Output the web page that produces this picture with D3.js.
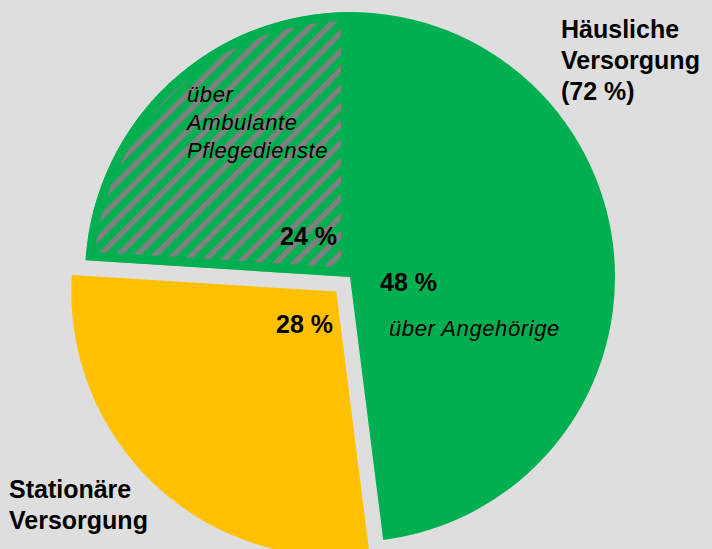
<!DOCTYPE html>
<html>
<head>
<meta charset="utf-8">
<script src="https://cdn.jsdelivr.net/npm/d3@7"></script>
<style>
  body { margin: 0; background: #dedede; }
  svg { display: block; font-family: "Liberation Sans", Arial, sans-serif; }
  .big { font-weight: bold; font-size: 25px; fill: #000; }
  .note { font-style: italic; font-size: 22px; letter-spacing: 0.6px; fill: #000; }
</style>
</head>
<body>
<div id="chart"></div>
<script>
// shares of care (percent)
const segments = ["Angehörige", "Stationär", "Ambulant"];
const shares = [48, 28, 24];
const colors = ["#00b050", "#ffc000", "#00b050"];
const pulled = [0, 20, 0];
const hatched = [false, false, true];

const width = 712, height = 549;
const cx = 350, cy = 277, radius = 265;

const svg = d3.select("#chart").append("svg")
    .attr("width", width)
    .attr("height", height);

svg.append("rect")
    .attr("width", width)
    .attr("height", height)
    .attr("fill", "#dedede");

let defs = svg.append("defs");
let pattern = defs.append("pattern")
    .attr("id", "stripes")
    .attr("patternUnits", "userSpaceOnUse")
    .attr("width", 13)
    .attr("height", 13)
    .attr("patternTransform", "rotate(45)");
pattern.append("rect")
    .attr("width", 13).attr("height", 13)
    .attr("fill", "#00b050");
pattern.append("rect")
    .attr("width", 5.5).attr("height", 13)
    .attr("fill", "#808080");

const pie = d3.pie().sort(null).value(d => d)(shares);
const arc = d3.arc().innerRadius(0).outerRadius(radius);

let g = svg.append("g").attr("transform", `translate(${cx},${cy})`);

pie.forEach((p, i) => {
    let mid = (p.startAngle + p.endAngle) / 2;
    let dx = Math.sin(mid) * pulled[i];
    let dy = -Math.cos(mid) * pulled[i];
    let slice = g.append("g").attr("transform", `translate(${dx},${dy})`);

    if (hatched[i]) {
        defs.append("clipPath")
            .attr("id", "clip" + i)
            .append("path")
            .attr("d", arc(p));
        slice.append("path")
            .attr("d", arc(p))
            .attr("fill", "url(#stripes)")
            .attr("stroke", colors[i])
            .attr("stroke-width", 18)
            .attr("clip-path", `url(#clip${i})`);
    } else {
        slice.append("path")
            .attr("d", arc(p))
            .attr("fill", colors[i]);
    }
});

// labels
function lines(x, y, texts, cls, lh) {
    let t = svg.append("text").attr("class", cls).attr("x", x).attr("y", y);
    texts.forEach((s, k) => {
        t.append("tspan").attr("x", x).attr("dy", k === 0 ? 0 : lh).text(s);
    });
}

lines(561, 38, ["Häusliche", "Versorgung", "(72 %)"], "big", 31);
lines(9, 498, ["Stationäre", "Versorgung"], "big", 31);
lines(380, 291, [shares[0] + " %"], "big", 0);
lines(276, 333, [shares[1] + " %"], "big", 0);
lines(280, 245, [shares[2] + " %"], "big", 0);
lines(389, 336, ["über Angehörige"], "note", 0);
lines(187, 102, ["über", "Ambulante", "Pflegedienste"], "note", 28);
</script>
</body>
</html>
